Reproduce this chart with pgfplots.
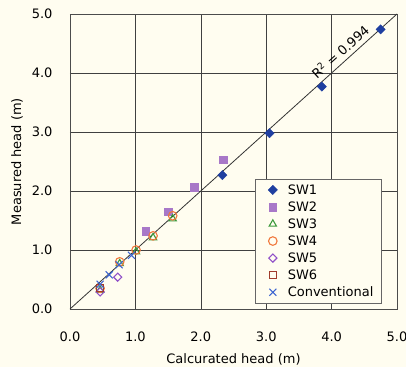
\documentclass[border=0pt]{standalone}
\usepackage{pgfplots}
\pgfplotsset{compat=1.18}
\usepackage{fontspec}
\setmainfont{DejaVu Sans}
\usetikzlibrary{backgrounds}
\definecolor{bg}{HTML}{FFFDF0}
\definecolor{cSWa}{HTML}{1F3FA0}
\definecolor{cSWb}{HTML}{A878C8}
\definecolor{cSWc}{HTML}{3C9A3C}
\definecolor{cSWd}{HTML}{F0783C}
\definecolor{cSWe}{HTML}{9050C8}
\definecolor{cSWf}{HTML}{A03C2C}
\definecolor{cConv}{HTML}{3C64D0}
\begin{document}
\begin{tikzpicture}[font=\fontsize{13bp}{15.6bp}\selectfont]
\begin{axis}[
  width=327bp, height=295bp, scale only axis,
  xmin=0, xmax=5, ymin=0, ymax=5,
  xtick={0,1,2,3,4,5}, ytick={0,1,2,3,4,5},
  /pgf/number format/assume math mode=true,
  xticklabel={\pgfmathprintnumber[fixed,fixed zerofill,precision=1]{\tick}},
  yticklabel={\pgfmathprintnumber[fixed,fixed zerofill,precision=1]{\tick}},
  xticklabel style={yshift=-19bp},
  yticklabel style={xshift=-14bp},
  major tick length=0pt,
  grid=major,
  major grid style={draw=black!75, line width=0.6pt},
  axis line style={draw=black!70, line width=0.8pt},
  xlabel={Calcurated head (m)},
  ylabel={Measured head (m)},
  xlabel style={at={(rel axis cs:0.5,0)}, anchor=center, yshift=-50bp},
  ylabel style={at={(rel axis cs:0,0.5)}, anchor=center, yshift=53bp},
  legend style={at={(axis cs:2.83,2.20)}, anchor=north west, fill=bg, draw=black!60,
    font=\fontsize{13bp}{15.6bp}\selectfont, row sep=1.9bp, inner xsep=6bp, inner ysep=3bp},
  legend image code/.code={\draw[#1] plot coordinates {(0.4cm,0cm)}; \path (0cm,0cm) (0.85cm,0cm);},
  legend cell align=left,
]
\coordinate (ll) at (rel axis cs:0,0);
\coordinate (ur) at (rel axis cs:1,1);
\addplot[only marks, mark=square*, mark size=3.3pt, mark options={rotate=45, fill=cSWa, draw=cSWa}]
  coordinates {(4.75,4.74) (3.85,3.77) (3.05,2.98) (2.33,2.27)};
\addlegendentry{SW1}
\addplot[only marks, mark=square*, mark size=3.8pt, mark options={fill=cSWb, draw=cSWb}]
  coordinates {(2.34,2.53) (1.90,2.06) (1.50,1.65) (1.16,1.32)};
\addlegendentry{SW2}
\addplot[only marks, mark=triangle, mark size=4.2pt, mark options={draw=cSWc, line width=1.1pt}]
  coordinates {(1.57,1.53) (1.27,1.21) (1.01,0.97) (0.76,0.77) (0.46,0.32)};
\addlegendentry{SW3}
\addplot[only marks, mark=o, mark size=4.3pt, mark options={draw=cSWd, line width=1.1pt}]
  coordinates {(1.57,1.58) (1.27,1.24) (1.01,1.00) (0.76,0.80) (0.46,0.35)};
\addlegendentry{SW4}
\addplot[only marks, mark=square, mark size=2.9pt, mark options={rotate=45, draw=cSWe, line width=1.1pt}]
  coordinates {(0.73,0.54) (0.46,0.29)};
\addlegendentry{SW5}
\addplot[only marks, mark=square, mark size=3.6pt, mark options={draw=cSWf, line width=1.1pt}]
  coordinates {(0.46,0.35)};
\addlegendentry{SW6}
\addplot[only marks, mark=x, mark size=5pt, mark options={draw=cConv, line width=1.1pt}]
  coordinates {(0.46,0.42) (0.60,0.58) (0.75,0.75) (0.94,0.91)};
\addlegendentry{Conventional}
\addplot[draw=black!80, line width=0.8pt, forget plot] coordinates {(0,0) (5,5)};
\node[rotate=42.1] at (axis cs:4.13,4.36) {R\textsuperscript{2} = 0.994};
\end{axis}
\begin{scope}[on background layer]
\fill[bg] ([xshift=-70bp,yshift=-58bp]ll) rectangle ([xshift=9bp,yshift=14bp]ur);
\end{scope}
\pgfresetboundingbox
\path[use as bounding box] ([xshift=-70bp,yshift=-58bp]ll) rectangle ([xshift=9bp,yshift=14bp]ur);
\end{tikzpicture}
\end{document}
